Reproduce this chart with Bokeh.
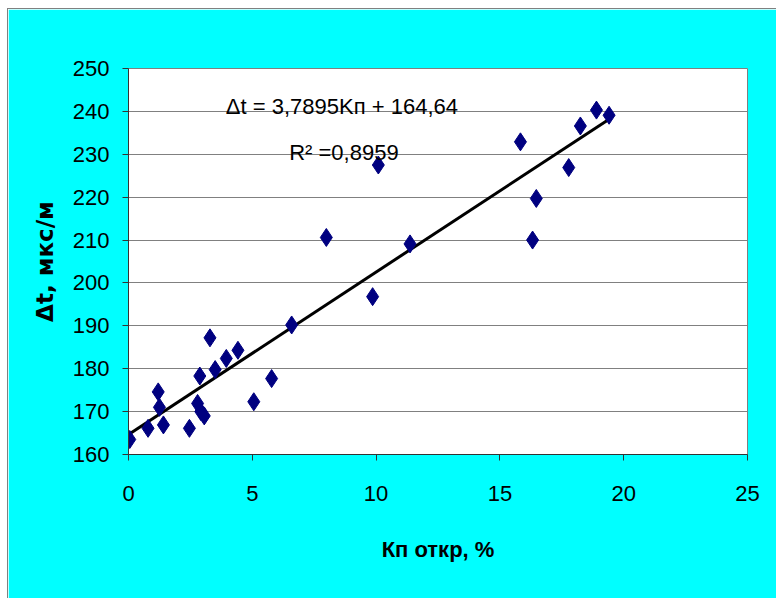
from bokeh.plotting import figure
from bokeh.models import Label, FixedTicker, Range1d
from bokeh.embed import file_html
from bokeh.resources import INLINE

# Data
kp = [0.05, 0.79, 1.20, 1.25, 1.41, 2.46, 2.79, 2.88, 2.92, 3.06, 3.29, 3.50,
      3.95, 4.42, 5.06, 5.78, 6.59, 7.99, 9.86, 10.09, 11.37, 15.83, 16.32,
      16.47, 17.78, 18.25, 18.90, 19.41]
dt = [163.5, 166.1, 174.6, 171.0, 166.9, 166.1, 171.9, 178.3, 170.0, 169.0,
      187.2, 179.8, 182.4, 184.3, 172.3, 177.7, 190.2, 210.6, 196.8, 227.5,
      209.1, 232.9, 210.0, 219.7, 226.9, 236.6, 240.3, 239.1]

slope = 3.7895
intercept = 164.64
r2_text = "R\u00b2 =0,8959"
eq_text = "\u0394t = 3,7895K\u043f + 164,64"

x_ticks = [0, 5, 10, 15, 20, 25]
y_ticks = [160, 170, 180, 190, 200, 210, 220, 230, 240, 250]

x_title = "\u041a\u043f \u043e\u0442\u043a\u0440, %"
y_title = "\u0394t, \u043c\u043a\u0441/\u043c"

FONT = "Liberation Sans"

p = figure(width=769, height=590, output_backend="svg", toolbar_location=None,
           x_range=Range1d(0, 25), y_range=Range1d(160, 250),
           min_border_left=120, min_border_right=30, min_border_top=59,
           min_border_bottom=145)
p.styles = {"margin-left": "7px", "margin-top": "8px",
            "border-top": "1px solid #808080", "border-left": "1px solid #808080"}

p.background_fill_color = "white"
p.border_fill_color = "#00FFFF"
p.outline_line_color = "#808080"
p.outline_line_width = 1

p.xgrid.visible = False
p.ygrid.grid_line_color = "#808080"
p.ygrid.grid_line_width = 1

p.xaxis.ticker = FixedTicker(ticks=x_ticks)
p.yaxis.ticker = FixedTicker(ticks=y_ticks)

for ax in (p.xaxis, p.yaxis):
    ax.axis_line_color = "#333333"
    ax.major_tick_line_color = "#333333"
    ax.minor_tick_line_color = None
    ax.major_tick_in = 0
    ax.major_tick_out = 6
    ax.major_label_text_font = FONT
    ax.major_label_text_font_size = "22px"
    ax.major_label_text_color = "black"
    ax.axis_label_text_color = "black"
    ax.axis_label_text_font_style = "bold"

p.yaxis.major_label_standoff = 13
p.xaxis.major_label_standoff = 25

p.xaxis.axis_label = x_title
p.xaxis.axis_label_text_font = FONT
p.xaxis.axis_label_text_font_size = "22px"
p.xaxis.axis_label_standoff = 33

p.yaxis.axis_label = y_title
p.yaxis.axis_label_text_font = "DejaVu Sans"
p.yaxis.axis_label_text_font_size = "23px"
p.yaxis.axis_label_standoff = 12

# trend line from the stated regression coefficients
x0, x1 = min(kp), max(kp)
p.line([x0, x1], [slope * x0 + intercept, slope * x1 + intercept],
       line_color="black", line_width=3)

p.scatter(kp, dt, marker="diamond", size=18, fill_color="#000080",
          line_color="#000080")

p.add_layout(Label(x=8.62, y=241.05, text=eq_text, text_align="center",
                   text_baseline="alphabetic", text_font=FONT,
                   text_font_size="22px", text_color="black"))
p.add_layout(Label(x=8.7, y=230.3, text=r2_text, text_align="center",
                   text_baseline="alphabetic", text_font=FONT,
                   text_font_size="22px", text_color="black"))

open("out.html", "w").write(file_html(p, INLINE))
